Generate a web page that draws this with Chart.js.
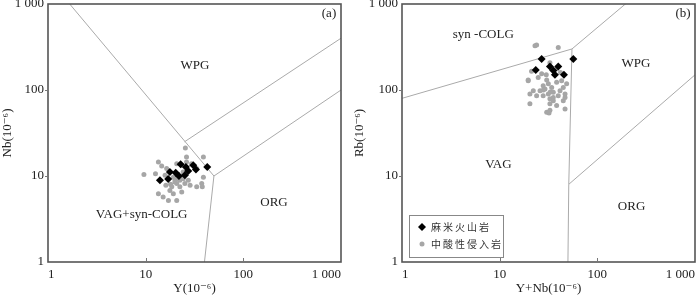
<!DOCTYPE html>
<html>
<head>
<meta charset="utf-8">
<script src="https://cdn.jsdelivr.net/npm/chart.js@4.4.1/dist/chart.umd.min.js"></script>
<style>
  html, body { margin: 0; padding: 0; background: #fff; }
  #wrap { position: relative; width: 700px; height: 297px; }
  .panel { position: absolute; top: 0; width: 350px; height: 297px; }
</style>
</head>
<body>
<div id="wrap">
  <div class="panel" style="left:0"><canvas id="canvas-a" width="350" height="297"></canvas></div>
  <div class="panel" style="left:350px"><canvas id="canvas-b" width="350" height="297"></canvas></div>
</div>
<script>
// ---- data ----
const seriesNames = ['麻米火山岩', '中酸性侵入岩'];
const tickValues = [1, 10, 100, 1000];
const tickLabels = ['1', '10', '100', '1 000'];

// (a) Nb vs Y
const volcY  = [14.0, 17.0, 17.7, 20.3, 22.8, 25.8, 21.9, 25.2, 27.3, 30.7, 32.7, 42.7];
const volcNb = [8.9, 9.2, 11.1, 10.9, 13.7, 12.7, 10.0, 10.2, 11.4, 13.3, 11.9, 12.7];
const intrY  = [9.6, 12.6, 13.5, 14.6, 15.8, 16.1, 13.5, 15.1, 17.1, 20.8, 17.7, 19.9, 21.6, 22.4, 25.2, 23.4, 19.2, 24.2, 26.2, 29.5,
                33.3, 26.2, 39.0, 37.5, 39.0, 33.3, 27.3, 28.5, 18.5, 19.2, 16.4, 20.8, 23.4, 22.4, 24.2, 20.8, 25.5, 38.0, 21.0, 23.0, 20.0, 18.0];
const intrNb = [10.4, 10.6, 14.5, 13.1, 10.2, 7.8, 6.2, 5.7, 5.2, 5.2, 6.8, 8.5, 9.3, 7.5, 8.2, 6.5, 6.2, 11.1, 14.5, 13.9,
                12.2, 16.6, 16.6, 8.2, 9.7, 7.5, 8.9, 7.8, 7.5, 9.7, 12.2, 13.9, 13.3, 8.9, 9.3, 8.2, 21.1, 7.5, 10.0, 9.8, 9.0, 8.0];

// (b) Rb vs Y+Nb
const volcYNb = [26.9, 23.4, 32.7, 35.4, 39.8, 36.8, 45.5, 56.8];
const volcRb  = [229, 171, 187, 168, 187, 150, 150, 229];
const intrYNb = [23.0, 39.8, 21.2, 19.6, 24.8, 26.9, 30.3, 27.9, 25.9, 29.1, 31.5, 34.1, 35.4, 38.3, 43.1, 48.5, 31.5, 27.9, 32.7, 35.4,
                 39.8, 46.7, 41.5, 44.8, 22.1, 20.4, 23.9, 32.7, 35.4, 38.3, 30.3, 32.7, 20.4, 44.8, 46.7, 23.9, 46.7, 32.0, 32.7, 38.0,
                 42.0, 30.0, 19.6, 28.0, 33.0];
const intrRb  = [327, 312, 165, 131, 140, 154, 131, 112, 98, 103, 118, 107, 94, 123, 128, 118, 90, 86, 79, 82,
                 86, 90, 98, 107, 98, 90, 86, 69, 75, 66, 55, 58, 69, 75, 60, 334, 82, 54, 208, 175,
                 160, 150, 128, 100, 95];

// field boundaries (Pearce et al. 1984)
const linesA = [[[1, 2000], [50, 10], [1000, 100]], [[25, 25], [1000, 400]], [[50, 10], [40, 1]]];
const linesB = [[[1, 80], [55, 300], [400, 2000]], [[55, 300], [51, 8], [50, 1]], [[51, 8], [1000, 150]]];

// field names and where they sit (data coordinates)
const fieldsA = ['WPG', 'ORG', 'VAG+syn-COLG'];
const fieldPosA = [[32, 192], [206, 4.9], [9.1, 3.6]];
const fieldsB = ['syn -COLG', 'WPG', 'VAG', 'ORG'];
const fieldPosB = [[6.8, 446], [248, 201], [9.7, 13.7], [224, 4.4]];

const zip = (xs, ys) => xs.map((x, i) => ({ x: x, y: ys[i] }));
const serif = "'Liberation Serif', 'DejaVu Serif', serif";

const frameColor = '#555';
const lineColor = '#aaa';
const dotColor = '#a6a6a6';

function drawLegend(ctx, x0, y0) {
  ctx.save();
  ctx.strokeStyle = '#888';
  ctx.lineWidth = 1;
  ctx.strokeRect(x0 + 0.5, y0 + 0.5, 94, 42);
  // diamond
  ctx.fillStyle = '#000';
  ctx.beginPath();
  ctx.moveTo(x0 + 13, y0 + 8); ctx.lineTo(x0 + 17, y0 + 12);
  ctx.lineTo(x0 + 13, y0 + 16); ctx.lineTo(x0 + 9, y0 + 12);
  ctx.closePath(); ctx.fill();
  // circle
  ctx.fillStyle = dotColor;
  ctx.beginPath(); ctx.arc(x0 + 13, y0 + 29, 2.5, 0, Math.PI * 2); ctx.fill();
  ctx.fillStyle = '#333';
  ctx.font = "10px 'Noto Sans CJK SC'";
  ctx.letterSpacing = '2px';
  ctx.textAlign = 'left';
  ctx.textBaseline = 'middle';
  ctx.fillText(seriesNames[0], x0 + 22, y0 + 12);
  ctx.fillText(seriesNames[1], x0 + 22, y0 + 29);
  ctx.restore();
}

function makeChart(id, opt) {
  const lineSets = opt.lines.map(pts => ({
    data: pts.map(p => ({ x: p[0], y: p[1] })),
    showLine: true, pointRadius: 0, borderColor: lineColor, borderWidth: 1, order: 3
  }));

  const decor = {
    id: 'decor',
    afterDraw(chart) {
      const ctx = chart.ctx, a = chart.chartArea;
      const sx = chart.scales.x, sy = chart.scales.y;
      ctx.save();
      // frame
      ctx.strokeStyle = frameColor;
      ctx.lineWidth = 1.6;
      ctx.strokeRect(a.left, a.top, a.right - a.left, a.bottom - a.top);
      // small ticks
      ctx.lineWidth = 1;
      ctx.strokeStyle = '#777';
      [10, 100].forEach(v => {
        const px = Math.round(sx.getPixelForValue(v)) + 0.5;
        ctx.beginPath(); ctx.moveTo(px, a.bottom); ctx.lineTo(px, a.bottom - 4); ctx.stroke();
        const py = Math.round(sy.getPixelForValue(v)) + 0.5;
        ctx.beginPath(); ctx.moveTo(a.left, py); ctx.lineTo(a.left - 3, py); ctx.stroke();
      });
      // field names
      ctx.fillStyle = '#222';
      ctx.font = '13px ' + serif;
      ctx.textAlign = 'center';
      ctx.textBaseline = 'middle';
      opt.fields.forEach((t, i) => {
        const p = opt.fieldPos[i];
        ctx.fillText(t, sx.getPixelForValue(p[0]), sy.getPixelForValue(p[1]));
      });
      // panel tag
      ctx.fillText(opt.tag, a.right - 12, a.top + 10);
      // axis titles
      ctx.fillText(opt.xTitle, (a.left + a.right) / 2, 289);
      ctx.save();
      ctx.translate(opt.yTitleX, (a.top + a.bottom) / 2);
      ctx.rotate(-Math.PI / 2);
      ctx.fillText(opt.yTitle, 0, 0);
      ctx.restore();
      if (opt.legend) drawLegend(ctx, a.left + 7, 215);
      ctx.restore();
    }
  };

  return new Chart(document.getElementById(id), {
    type: 'scatter',
    data: {
      datasets: [
        { label: seriesNames[0], data: opt.volc, pointStyle: 'rectRot', pointRadius: 4,
          backgroundColor: '#000', borderColor: '#000', borderWidth: 0, order: 1 },
        { label: seriesNames[1], data: opt.intr, pointStyle: 'circle', pointRadius: 2.5,
          backgroundColor: dotColor, borderColor: dotColor, borderWidth: 0, order: 2 }
      ].concat(lineSets)
    },
    options: {
      responsive: false,
      animation: false,
      events: [],
      layout: { padding: { top: 3, right: opt.padRight, left: 0, bottom: 0 } },
      plugins: { legend: { display: false }, tooltip: { enabled: false } },
      scales: {
        x: {
          type: 'logarithmic', min: 1, max: 1000,
          afterBuildTicks: s => { s.ticks = tickValues.map(v => ({ value: v })); },
          afterFit: s => { s.height = 35; s.paddingLeft = 0; s.paddingRight = 0; },
          ticks: { autoSkip: false, maxRotation: 0, align: 'inner', padding: 5, color: '#222',
                   font: { family: serif, size: 13 }, callback: (v, i) => tickLabels[i] },
          grid: { display: false, drawTicks: false }, border: { display: false }
        },
        y: {
          type: 'logarithmic', min: 1, max: 1000,
          afterBuildTicks: s => { s.ticks = tickValues.map(v => ({ value: v })); },
          afterFit: s => { s.width = opt.yWidth; s.paddingTop = 0; s.paddingBottom = 0; },
          ticks: { autoSkip: false, padding: 4, color: '#222',
                   font: { family: serif, size: 13 }, callback: (v, i) => tickLabels[i] },
          grid: { display: false, drawTicks: false }, border: { display: false }
        }
      }
    },
    plugins: [decor]
  });
}

makeChart('canvas-a', {
  volc: zip(volcY, volcNb), intr: zip(intrY, intrNb), lines: linesA,
  fields: fieldsA, fieldPos: fieldPosA, tag: '(a)',
  xTitle: 'Y(10⁻⁶)', yTitle: 'Nb(10⁻⁶)', yTitleX: 8, yWidth: 48, padRight: 9, legend: false
});

makeChart('canvas-b', {
  volc: zip(volcYNb, volcRb), intr: zip(intrYNb, intrRb), lines: linesB,
  fields: fieldsB, fieldPos: fieldPosB, tag: '(b)',
  xTitle: 'Y+Nb(10⁻⁶)', yTitle: 'Rb(10⁻⁶)', yTitleX: 10, yWidth: 52, padRight: 5, legend: true
});
</script>
</body>
</html>
